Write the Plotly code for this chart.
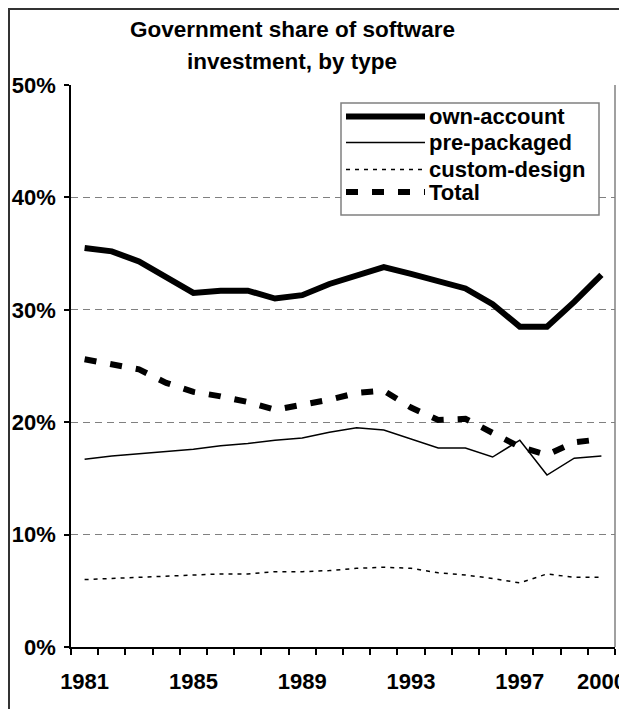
import plotly.graph_objects as go

years = list(range(1981, 2001))
own_account = [35.5, 35.2, 34.3, 32.9, 31.5, 31.7, 31.7, 31.0, 31.3, 32.3,
               33.0, 33.8, 33.2, 32.5, 31.9, 30.5, 28.5, 28.5, 30.7, 33.1]
pre_packaged = [16.7, 17.0, 17.2, 17.4, 17.6, 17.9, 18.1, 18.4, 18.6, 19.1,
                19.5, 19.3, 18.5, 17.7, 17.7, 16.9, 18.4, 15.3, 16.8, 17.0]
custom_design = [6.0, 6.1, 6.2, 6.3, 6.4, 6.5, 6.5, 6.7, 6.7, 6.8,
                 7.0, 7.1, 7.0, 6.6, 6.4, 6.1, 5.7, 6.5, 6.2, 6.2]
total = [25.6, 25.2, 24.7, 23.5, 22.7, 22.3, 21.8, 21.1, 21.5, 22.0,
         22.6, 22.8, 21.3, 20.2, 20.3, 19.1, 17.8, 17.1, 18.2, 18.5]
tick_years = [1981, 1985, 1989, 1993, 1997, 2000]
pct_ticks = [0, 10, 20, 30, 40, 50]

FONT = "Liberation Sans, Arial, sans-serif"

# series name, values, line width, dash
series = [
    ("own-account", own_account, 6, "solid"),
    ("pre-packaged", pre_packaged, 1.5, "solid"),
    ("custom-design", custom_design, 1.5, "4px,5px"),
    ("Total", total, 6, "12px,14px"),
]

fig = go.Figure()
for name, vals, w, dash in series:
    fig.add_trace(go.Scatter(x=years, y=vals, mode="lines", name=name,
                             line=dict(color="black", width=w, dash=dash),
                             showlegend=False))

# page body has an 8px margin, so figure pixels = screen pixels - 8
OFF = 8
W, H = 627 - OFF, 709 - OFF
# plot area in screen pixels
L, R, T, B = 71, 615, 85, 647
def px(x):
    return (x - L) / (R - L)
def py(y):
    return (B - y) / (B - T)

shapes = []
# outer chart border
shapes.append(dict(type="rect", xref="paper", yref="paper",
                   x0=px(OFF + 1), x1=px(640), y0=py(720), y1=py(OFF + 1),
                   line=dict(color="#333333", width=2), layer="above"))
# right border of plot area
shapes.append(dict(type="line", xref="paper", yref="paper", x0=1, x1=1, y0=0, y1=1,
                   line=dict(color="#808080", width=1.5), layer="above"))

# manual legend
shapes.append(dict(type="rect", xref="paper", yref="paper",
                   x0=px(341), x1=px(599), y0=py(215), y1=py(103),
                   fillcolor="white", line=dict(color="#808080", width=1.5), layer="above"))
legend_rows = [116.5, 142.5, 169.5, 192]
annotations = []
for (name, vals, w, dash), yrow in zip(series, legend_rows):
    shapes.append(dict(type="line", xref="paper", yref="paper",
                       x0=px(346), x1=px(425), y0=py(yrow), y1=py(yrow),
                       line=dict(color="black", width=w, dash=dash), layer="above"))
    annotations.append(dict(text=f"<b>{name}</b>", xref="paper", yref="paper",
                            x=px(427), y=py(yrow), xanchor="left", yanchor="middle",
                            showarrow=False, font=dict(family=FONT, size=22, color="black")))

# title, two lines
for line_text, yc in [("<b>Government share of software</b>", 29), ("<b>investment, by type</b>", 62)]:
    annotations.append(dict(text=line_text, xref="paper", yref="paper",
                            x=px(292), y=py(yc), xanchor="center", yanchor="middle",
                            showarrow=False, font=dict(family=FONT, size=22.5, color="black")))

fig.update_layout(
    width=W, height=H,
    margin=dict(l=L - OFF, r=627 - R, t=T - OFF, b=709 - B),
    plot_bgcolor="white", paper_bgcolor="white",
    showlegend=False,
    font=dict(family=FONT, size=22, color="black"),
    shapes=shapes,
    annotations=annotations,
    xaxis=dict(range=[1980.5, 2000.5], tickvals=tick_years,
               ticktext=[f"<b>{y}</b>" for y in tick_years],
               ticks="", showgrid=False, zeroline=False, automargin=False,
               showline=True, linecolor="black", linewidth=1.5,
               ticklabelstandoff=14,
               minor=dict(tick0=1980.5, dtick=1, ticks="outside", ticklen=6,
                          tickcolor="black", tickwidth=1.5, showgrid=False),
               fixedrange=True),
    yaxis=dict(range=[0, 50], tickvals=pct_ticks,
               ticktext=[f"<b>{v}%</b>" for v in pct_ticks],
               ticks="outside", ticklen=5, tickcolor="black", tickwidth=1.5,
               showgrid=True, gridcolor="#808080", gridwidth=1.2, griddash="7px,5px",
               zeroline=False, showline=True, linecolor="black", linewidth=1.5,
               automargin=False, ticklabelstandoff=4, fixedrange=True),
)

fig.write_html("out.html")
